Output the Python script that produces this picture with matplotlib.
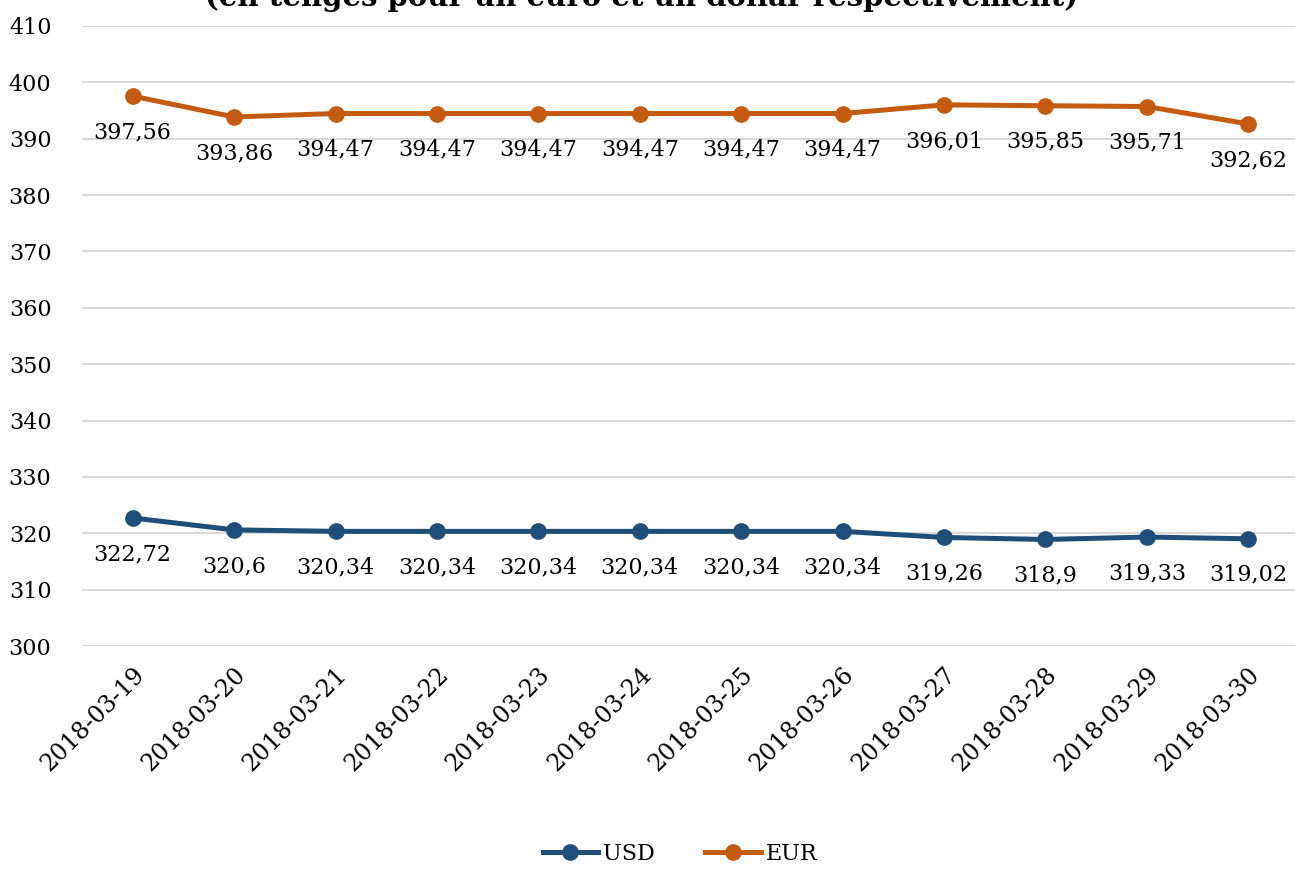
import matplotlib.pyplot as plt

plt.rcParams['font.family'] = ['DejaVu Serif']

dates = ['2018-03-19', '2018-03-20', '2018-03-21', '2018-03-22', '2018-03-23', '2018-03-24',
         '2018-03-25', '2018-03-26', '2018-03-27', '2018-03-28', '2018-03-29', '2018-03-30']
usd = [322.72, 320.6, 320.34, 320.34, 320.34, 320.34, 320.34, 320.34, 319.26, 318.9, 319.33, 319.02]
eur = [397.56, 393.86, 394.47, 394.47, 394.47, 394.47, 394.47, 394.47, 396.01, 395.85, 395.71, 392.62]
yticks = list(range(300, 411, 10))

usdColor = '#1F4E79'
eurColor = '#C55A11'

fig = plt.figure(figsize=(12.95, 8.69), dpi=100)
ax = fig.add_axes([0.0633, 0.2566, 0.9398, 0.7135])
x = list(range(len(dates)))

ax.plot(x, usd, '-o', color=usdColor, lw=3.6, ms=11, label='USD')
ax.plot(x, eur, '-o', color=eurColor, lw=3.6, ms=11, label='EUR')

def fmt(v):
    return ('%g' % v).replace('.', ',')

for i in x:
    ax.annotate(fmt(usd[i]), (i, usd[i]), xytext=(0, -26), textcoords='offset points',
                ha='center', va='center', fontsize=16)
    ax.annotate(fmt(eur[i]), (i, eur[i]), xytext=(0, -26), textcoords='offset points',
                ha='center', va='center', fontsize=16)

ax.set_xlim(-0.5, len(dates) - 0.5)
ax.set_ylim(300, 410)
ax.set_yticks(yticks)
ax.set_xticks(x)
ax.set_xticklabels(dates, rotation=45, ha='right', rotation_mode='anchor')
ax.tick_params(axis='both', length=0, labelsize=16)
ax.tick_params(axis='x', labelsize=17, pad=12)
ax.tick_params(axis='y', pad=22)
ax.grid(axis='y', color='#D9D9D9', lw=1.5)
ax.set_axisbelow(True)
for s in ax.spines.values():
    s.set_visible(False)

# titre coupé en haut, comme dans l'original
fig.text(0.495, 1.003, '(en tenges pour un euro et un dollar respectivement)',
         ha='center', va='center', fontsize=21, fontweight='bold')

fig.legend(loc='lower center', bbox_to_anchor=(0.525, -0.018), ncol=2, frameon=False,
           fontsize=16, handlelength=2.5, columnspacing=2.3, handletextpad=0.2)

fig.savefig('out.png', dpi=100)
